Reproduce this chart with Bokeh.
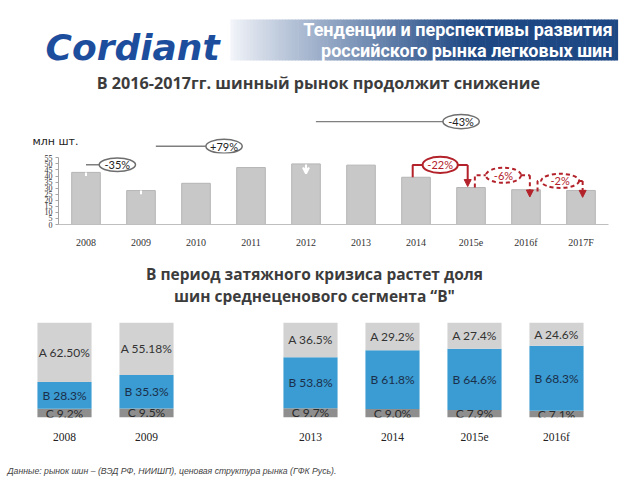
import numpy as np
from bokeh.plotting import figure
from bokeh.layouts import column
from bokeh.models import (FactorRange, Range1d, ColumnDataSource, Arrow,
                          NormalHead, VeeHead, FixedTicker)
from bokeh.core.properties import value
from bokeh.embed import file_html
from bokeh.resources import INLINE

# ---------------- data ----------------
years = ["2008", "2009", "2010", "2011", "2012", "2013", "2014", "2015e", "2016f", "2017F"]
market = [43.0, 28.0, 34.0, 47.0, 50.0, 49.0, 39.0, 30.5, 28.7, 28.1]   # mln pcs
y_ticks = [0, 5, 10, 15, 20, 25, 30, 35, 40, 45, 50, 55]

grey_changes = ["-35%", "+79%", "-43%"]
red_changes = ["-22%", "-6%", "-2%"]

seg_years = ["2008", "2009", "2013", "2014", "2015e", "2016f"]
share_A = [62.50, 55.18, 36.5, 29.2, 27.4, 24.6]
share_B = [28.3, 35.3, 53.8, 61.8, 64.6, 68.3]
share_C = [9.2, 9.5, 9.7, 9.0, 7.9, 7.1]
label_A = ["A 62.50%", "A 55.18%", "A 36.5%", "A 29.2%", "A 27.4%", "A 24.6%"]
label_B = ["B 28.3%", "B 35.3%", "B 53.8%", "B 61.8%", "B 64.6%", "B 68.3%"]
label_C = ["C 9.2%", "C 9.5%", "C 9.7%", "C 9.0%", "C 7.9%", "C 7.1%"]

title1 = "Тенденции и перспективы развития"
title2 = "российского рынка легковых шин"
subtitle1 = "В 2016-2017гг.  шинный рынок продолжит снижение"
subtitle2a = "В период затяжного кризиса растет доля"
subtitle2b = "шин среднеценового сегмента “В\""
unit_label = "млн шт."
footer = "Данные: рынок шин – (ВЭД РФ, НИИШП), ценовая структура рынка (ГФК Русь)."

RED = "#B3222A"
TXT = "#3C3C3C"
W = 632
PX_X = 55.0      # px per category (market chart)
PX_Y = 1.28      # px per mln (market chart)
X0 = 58.0        # x of market-chart frame left
Y0 = 228.0       # y of market-chart baseline
SPLIT = 153.0    # y where annotation strip meets bar chart


def deco_fig(h, y0, y1):
    f = figure(width=W, height=h, x_range=Range1d(0, W), y_range=Range1d(y1, y0),
               toolbar_location=None, output_backend="svg",
               x_axis_location=None, y_axis_location=None, min_border=0,
               outline_line_color=None, frame_align=False)
    f.grid.visible = False
    return f


# ---------------- header ----------------
hdr = deco_fig(105, 0, 105)
n = 120
xs = np.linspace(230, 617, n + 1)
c0 = np.array([242, 244, 249])
c1 = np.array([30, 72, 132])
cols = []
for k in range(n):
    t = (xs[k] - 230) / (617 - 230)
    f = min(1.0, t / 0.62) ** 0.9
    c = (c0 * (1 - f) + c1 * f).astype(int)
    cols.append("#%02x%02x%02x" % tuple(c))
hdr.quad(left=xs[:-1], right=xs[1:] + 0.6, top=19, bottom=60, fill_color=cols, line_color=None)
hdr.text(x=[45], y=[47], text=["Cordiant"], text_font=value("DejaVu Sans"),
         text_font_style="bold italic", text_font_size="36px", text_color="#1D4E9E",
         text_baseline="alphabetic")
hdr.text(x=[612, 612], y=[29, 50], text=[title1, title2], text_align="right",
         text_baseline="middle", text_font=value("Roboto"), text_font_style="bold",
         text_font_size="18px", text_color="white")
hdr.text(x=[320], y=[82], text=[subtitle1], text_align="center", text_baseline="middle",
         text_font=value("Open Sans"), text_font_style="bold", text_font_size="16.2px",
         text_color=TXT)

# ---------------- market chart: upper annotation strip ----------------
up = figure(width=W, height=int(SPLIT - 105),
            x_range=Range1d((0 - X0) / PX_X, (W - X0) / PX_X),
            y_range=Range1d((Y0 - SPLIT) / PX_Y, (Y0 - 105) / PX_Y),
            toolbar_location=None, output_backend="svg", x_axis_location=None,
            y_axis_location=None, min_border=0, outline_line_color=None, frame_align=False)
up.grid.visible = False

# ---------------- market chart: bars ----------------
p = figure(width=W, height=int(250 - SPLIT), x_range=FactorRange(factors=years),
           y_range=Range1d(0, (Y0 - SPLIT) / PX_Y),
           toolbar_location=None, output_backend="svg", outline_line_color=None,
           min_border_left=int(X0), min_border_right=W - 608, min_border_top=0,
           min_border_bottom=int(250 - Y0), frame_align=False)
p.grid.visible = False
p.vbar(x=years, top=market, width=0.52, fill_color="#C8C8C8", line_color="#B5B5B5", line_width=1)

p.yaxis.ticker = FixedTicker(ticks=y_ticks)
p.yaxis.bounds = (0, 55)
p.yaxis.minor_tick_line_color = None
p.yaxis.axis_line_color = "#A6A6A6"
p.yaxis.major_tick_line_color = "#A6A6A6"
p.yaxis.major_tick_out = 3
p.yaxis.major_tick_in = 0
p.yaxis.major_label_standoff = 3
p.yaxis.major_label_text_font = "Liberation Serif"
p.yaxis.major_label_text_font_size = "8px"
p.yaxis.major_label_text_color = "#333333"
p.xaxis.axis_line_color = "#BFBFBF"
p.xaxis.major_tick_line_color = None
p.xaxis.major_label_standoff = 6
p.xaxis.major_label_text_font = "Liberation Serif"
p.xaxis.major_label_text_font_size = "10px"
p.xaxis.major_label_text_color = "#333333"

# white marks inside bar tops
p.segment(x0=[0.5, 1.5], y0=[market[0], market[1]], x1=[0.5, 1.5],
          y1=[market[0] - 3, market[1] - 3], line_color="white", line_width=2)
p.add_layout(Arrow(end=VeeHead(size=6, line_color="white", line_width=2),
                   x_start=4.5, y_start=market[4] - 0.5, x_end=4.5, y_end=market[4] - 8,
                   line_color="white", line_width=2))

# grey change annotations (drawn in both strips; each clips its own part)
g_x0 = [0.50, 1.77, 4.68]
g_x1 = [0.74, 2.68, 7.00]
g_xc = [1.07, 3.01, 7.32]
g_y = [49.3, 64.2, 83.5]
for f in (up, p):
    f.segment(x0=g_x0, y0=g_y, x1=g_x1, y1=g_y, line_color="#7F7F7F", line_width=1.4)
    f.ellipse(x=g_xc, y=g_y, width=0.66, height=11, fill_color="white",
              line_color="#6E6E6E", line_width=1.5)
up.text(x=g_xc[1:], y=g_y[1:], text=grey_changes[1:], text_align="center", text_baseline="middle",
        text_font=value("Lato"), text_font_size="11px", text_color="#222222")
p.text(x=g_xc[:1], y=g_y[:1], text=grey_changes[:1], text_align="center", text_baseline="middle",
       text_font=value("Lato"), text_font_size="11px", text_color="#222222")
up.text(x=[(32 - X0) / PX_X], y=[(Y0 - 141) / PX_Y], text=[unit_label],
        text_font=value("DejaVu Sans"), text_font_size="11px", text_color="#222222",
        text_baseline="middle")

# red bracket annotations
r_xl = [6.44, 7.57, 8.71]
r_yl = [market[6], market[7], 27.3]
r_xc = [6.94, 8.09, 9.12]
r_w = [0.64, 0.64, 0.69]
r_h = [13.3, 12.5, 11.7]
r_lvl = [49.2, 40.6, 36.0]
r_xr = [7.44, 8.57, 9.53]
r_tip = [market[7] + 0.8, 22.7, 22.4]
r_dash = ["solid", "4 3", "4 3"]
for k in range(3):
    half = r_w[k] / 2
    p.line(x=[r_xl[k], r_xl[k], r_xc[k] - half], y=[r_yl[k], r_lvl[k], r_lvl[k]],
           line_color=RED, line_width=2, line_dash=r_dash[k])
    p.line(x=[r_xc[k] + half, r_xr[k]], y=[r_lvl[k], r_lvl[k]],
           line_color=RED, line_width=2, line_dash=r_dash[k])
    p.add_layout(Arrow(end=NormalHead(size=7, fill_color=RED, line_color=RED),
                       x_start=r_xr[k], y_start=r_lvl[k], x_end=r_xr[k], y_end=r_tip[k],
                       line_color=RED, line_width=2, line_dash=r_dash[k]))
    p.ellipse(x=[r_xc[k]], y=[r_lvl[k]], width=r_w[k], height=r_h[k], fill_color="white",
              line_color=RED, line_width=2, line_dash=r_dash[k])
p.text(x=r_xc, y=r_lvl, text=red_changes, text_align="center", text_baseline="middle",
       text_font=value("Lato"), text_font_size="11px", text_color=RED)

# ---------------- subtitle 2 ----------------
sub = deco_fig(55, 250, 305)
sub.text(x=[314, 314], y=[273, 295], text=[subtitle2a, subtitle2b], text_align="center",
         text_baseline="middle", text_font=value("Open Sans"), text_font_style="bold",
         text_font_size="15.5px", text_color=TXT)

# ---------------- share chart ----------------
slots = seg_years[:2] + [" "] + seg_years[2:]      # blank slot separates the two periods
b = figure(width=W, height=140, x_range=FactorRange(factors=slots),
           y_range=Range1d(0, 100), toolbar_location=None, output_backend="svg",
           outline_line_color=None, y_axis_location=None, frame_align=False,
           min_border_left=23, min_border_right=W - 597, min_border_top=17, min_border_bottom=23)
b.grid.visible = False
yC = [c / 2 for c in share_C]
yB = [c + bb / 2 for c, bb in zip(share_C, share_B)]
yA = [c + bb + a / 2 for c, bb, a in zip(share_C, share_B, share_A)]
src = ColumnDataSource(dict(x=seg_years, C=share_C, B=share_B, A=share_A,
                            yA=yA, yB=yB, yC=yC, lA=label_A, lB=label_B, lC=label_C))
b.vbar_stack(["C", "B", "A"], x="x", width=0.66, source=src,
             color=["#8E8E8E", "#3A9CD2", "#D2D2D2"], line_color=None)
b.text(x="x", y="yA", text="lA", source=src, text_align="center", text_baseline="middle",
       text_font=value("Lato"), text_font_size="12px", text_color="#333333")
b.text(x="x", y="yB", text="lB", source=src, text_align="center", text_baseline="middle",
       text_font=value("Lato"), text_font_size="12px", text_color="#1B2E4A")
b.text(x="x", y="yC", text="lC", source=src, text_align="center", text_baseline="middle",
       text_font=value("Lato"), text_font_size="12px", text_color="#2A2A2A")
b.xaxis.axis_line_color = None
b.xaxis.major_tick_line_color = None
b.xaxis.major_label_standoff = 7
b.xaxis.major_label_text_font = "Liberation Serif"
b.xaxis.major_label_text_font_size = "11.5px"
b.xaxis.major_label_text_color = "#222222"

# ---------------- footer ----------------
ft = deco_fig(31, 445, 476)
ft.text(x=[7], y=[470], text=[footer], text_baseline="middle", text_font=value("Liberation Sans"),
        text_font_style="italic", text_font_size="8.7px", text_color="#444444")

layout = column(hdr, up, p, sub, b, ft, spacing=0)
open("out.html", "w").write(file_html(layout, INLINE))
